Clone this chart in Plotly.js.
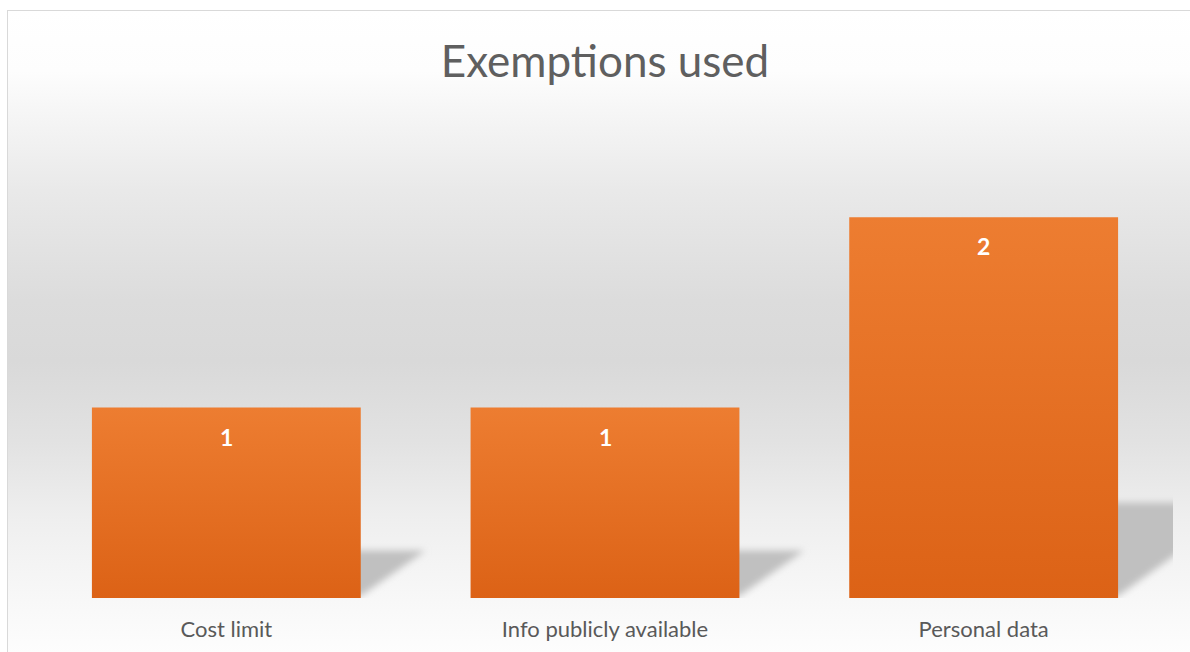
<!DOCTYPE html>
<html>
<head>
<meta charset="utf-8">
<script src="https://cdn.plot.ly/plotly-3.0.1.min.js"></script>
<style>
html,body{margin:0;padding:0;width:1190px;height:652px;overflow:hidden;background:#ffffff;}
#frame{position:absolute;left:7px;top:10px;width:1220px;height:700px;box-sizing:border-box;border:1.5px solid #d9d9d9;
background:linear-gradient(to bottom,#ffffff 0px,#fdfdfd 60px,#f6f6f6 100px,#e9e9e9 180px,#dcdcdc 290px,#d9d9d9 350px,#e2e2e2 430px,#efefef 510px,#f8f8f8 590px,#fdfdfd 642px,#ffffff 690px);}
#chart{position:absolute;left:0;top:0;width:1190px;height:652px;}
</style>
</head>
<body>
<div id="frame"></div>
<div id="chart"></div>
<script>
const categories = ['Cost limit', 'Info publicly available', 'Personal data'];
const counts = [1, 1, 2];
const titleText = 'Exemptions used';

const trace = {
  type: 'bar',
  x: categories,
  y: counts,
  marker: { color: '#E6732A', line: { width: 0 } },
  textposition: 'none',
  hoverinfo: 'none'
};

const layout = {
  width: 1190,
  height: 652,
  paper_bgcolor: 'rgba(0,0,0,0)',
  plot_bgcolor: 'rgba(0,0,0,0)',
  margin: { l: 37, r: 17, t: 122, b: 54, pad: 0 },
  bargap: 0.29,
  showlegend: false,
  title: {
    text: titleText,
    font: { family: 'Lato', size: 44, color: '#5f5f5f' },
    x: 0.5, xref: 'paper',
    y: 1 - 62 / 652, yref: 'container', yanchor: 'middle'
  },
  xaxis: {
    showgrid: false, zeroline: false, showline: false, ticks: '',
    ticklabelstandoff: 16,
    tickfont: { family: 'Lato', size: 22, color: '#595959' }
  },
  yaxis: { visible: false, range: [0, 2.5], showgrid: false, zeroline: false },
  annotations: categories.map((c, i) => ({
    x: c, y: counts[i], xref: 'x', yref: 'y',
    text: '<b>' + String(counts[i]) + '</b>',
    showarrow: false, yanchor: 'middle', yshift: -29,
    font: { family: 'Lato', size: 23, color: '#ffffff' }
  }))
};

function decorate(gd) {
  const NS = 'http://www.w3.org/2000/svg';
  const svg = gd.querySelector('svg.main-svg');
  let defs = svg.querySelector('defs');
  if (!defs) { defs = document.createElementNS(NS, 'defs'); svg.insertBefore(defs, svg.firstChild); }
  const grad = document.createElementNS(NS, 'linearGradient');
  grad.setAttribute('id', 'barGrad');
  grad.setAttribute('x1', '0'); grad.setAttribute('y1', '0');
  grad.setAttribute('x2', '0'); grad.setAttribute('y2', '1');
  [['0', '#ED7D31'], ['1', '#DC6216']].forEach(([o, c]) => {
    const s = document.createElementNS(NS, 'stop');
    s.setAttribute('offset', o); s.setAttribute('stop-color', c);
    grad.appendChild(s);
  });
  defs.appendChild(grad);
  const filt = document.createElementNS(NS, 'filter');
  filt.setAttribute('id', 'shBlur');
  filt.setAttribute('x', '-20%'); filt.setAttribute('y', '-20%');
  filt.setAttribute('width', '140%'); filt.setAttribute('height', '140%');
  const gb = document.createElementNS(NS, 'feGaussianBlur');
  gb.setAttribute('stdDeviation', '3.5');
  filt.appendChild(gb);
  defs.appendChild(filt);

  const barlayer = svg.querySelector('.barlayer');
  const g = document.createElementNS(NS, 'g');
  barlayer.insertBefore(g, barlayer.firstChild);
  svg.querySelectorAll('.barlayer .bars path').forEach(p => {
    const b = p.getBBox();
    const h = b.height, xR = b.x + b.width, yB = b.y + b.height;
    const dx = 0.34 * h, dy = 0.25 * h;
    const poly = document.createElementNS(NS, 'polygon');
    poly.setAttribute('points',
      (xR - 10) + ',' + (yB - 2) + ' ' + xR + ',' + (yB - 2) + ' ' + (xR + dx) + ',' + (yB - dy) + ' ' + (xR - 10) + ',' + (yB - dy));
    poly.setAttribute('fill', '#c0c0c0');
    poly.setAttribute('filter', 'url(#shBlur)');
    g.appendChild(poly);
    p.style.fill = 'url(#barGrad)';
  });
}

Plotly.newPlot('chart', [trace], layout, { staticPlot: true, displayModeBar: false }).then(decorate);
</script>
</body>
</html>
